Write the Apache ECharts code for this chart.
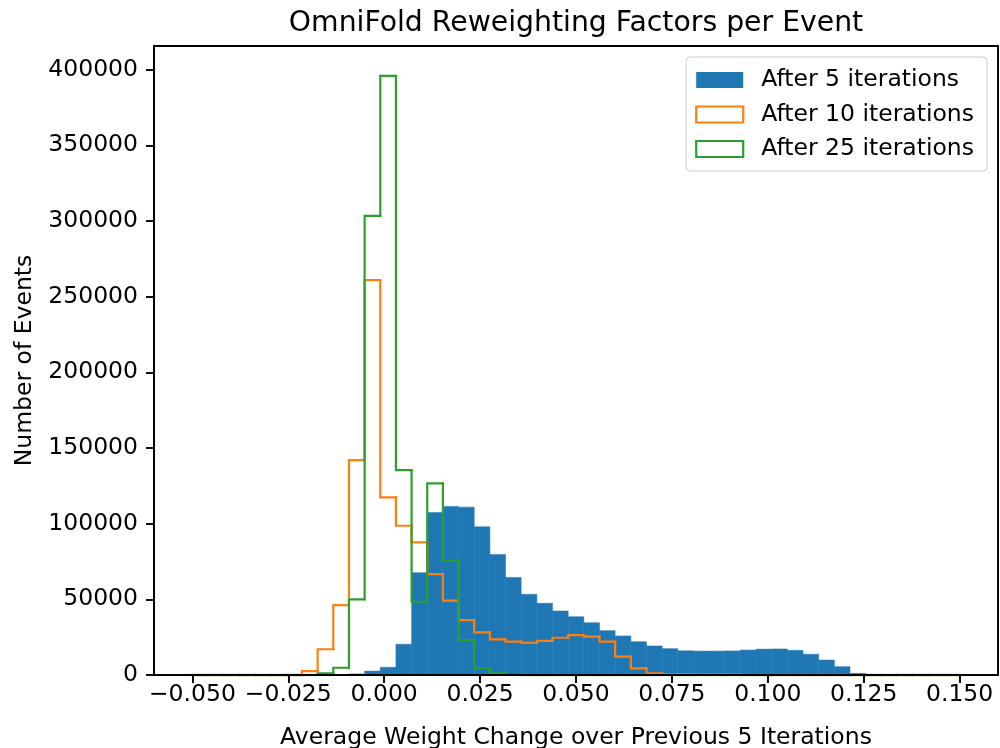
<!DOCTYPE html>
<html>
<head>
<meta charset="utf-8">
<title>OmniFold Reweighting Factors per Event</title>
<script src="https://cdn.jsdelivr.net/npm/echarts@6/dist/echarts.min.js"></script>
<style>
  html, body { margin: 0; padding: 0; background: #ffffff; }
  #chart { width: 1000px; height: 748px; }
</style>
</head>
<body>
<div id="chart"></div>
<script>
// Histogram binning: 49 equal bins between BIN_LO and BIN_HI
const BIN_LO = -0.05;
const BIN_HI = 0.15;
const BIN_COUNT = 49;

// Events per bin
const after5 = [
  0, 0, 0, 0, 0, 0, 0, 0, 0, 200,
  700, 2600, 5100, 20300, 67600, 107400, 111400, 110900, 97900, 79700,
  64500, 53300, 47400, 42300, 38500, 34500, 29300, 25800, 22000, 19200,
  17400, 16000, 15800, 15800, 15900, 16500, 17100, 17200, 16300, 13700,
  9900, 5500, 1100, 0, 0, 0, 0, 0, 0
];
const after10 = [
  0, 0, 0, 0, 0, 0, 0, 2600, 17000, 46200,
  142000, 260900, 117400, 98600, 87600, 66700, 49100, 36300, 28200, 23600,
  22000, 21300, 22500, 24600, 26400, 25300, 22000, 12100, 4400, 1100,
  500, 400, 300, 300, 200, 0, 0, 0, 0, 0,
  0, 0, 0, 0, 0, 0, 0, 0, 0
];
const after25 = [
  0, 0, 0, 0, 0, 0, 0, 0, 1100, 4800,
  50000, 303300, 395800, 135400, 48400, 126600, 75500, 23100, 4400, 1100,
  0, 0, 0, 0, 0, 0, 0, 0, 0, 0,
  0, 0, 0, 0, 0, 0, 0, 0, 0, 0,
  0, 0, 0, 0, 0, 0, 0, 0, 0
];

const seriesNames = ['After 5 iterations', 'After 10 iterations', 'After 25 iterations'];
const xTicks = [-0.05, -0.025, 0, 0.025, 0.05, 0.075, 0.1, 0.125, 0.15];
const yTicks = [0, 50000, 100000, 150000, 200000, 250000, 300000, 350000, 400000];

const COLORS = ['#1f77b4', '#ff7f0e', '#2ca02c'];
const FONT = 'DejaVu Sans';
const FS = 23.5;

const edges = [];
for (let i = 0; i <= BIN_COUNT; i++) {
  edges.push(BIN_LO + (BIN_HI - BIN_LO) * i / BIN_COUNT);
}

// [left edge, right edge, count]
function barData(counts) {
  return counts.map((c, i) => [edges[i], edges[i + 1], c]);
}
// [left edge, right edge, count, previous count, is last bin]
function stepData(counts) {
  return counts.map((c, i) => [edges[i], edges[i + 1], c, i ? counts[i - 1] : 0, i === counts.length - 1 ? 1 : 0]);
}

function renderBar(color) {
  return function (params, api) {
    const h = api.value(2);
    if (!h) return null;
    const p0 = api.coord([api.value(0), h]);
    const p1 = api.coord([api.value(1), 0]);
    return {
      type: 'rect',
      shape: { x: p0[0], y: p0[1], width: p1[0] - p0[0], height: p1[1] - p0[1] },
      style: { fill: color, stroke: color, lineWidth: 0.5 }
    };
  };
}

function renderStep(color) {
  return function (params, api) {
    const x0 = api.value(0), x1 = api.value(1);
    const h = api.value(2), hp = api.value(3), last = api.value(4);
    const pts = [api.coord([x0, hp]), api.coord([x0, h]), api.coord([x1, h])];
    if (last) pts.push(api.coord([x1, 0]));
    return {
      type: 'polyline',
      shape: { points: pts },
      style: { stroke: color, lineWidth: 2.2, fill: null, lineCap: 'square', lineJoin: 'miter' }
    };
  };
}

function fmtX(v) {
  return (Math.abs(v) < 1e-12 ? 0 : v).toFixed(3).replace('-', '\u2212');
}

const chart = echarts.init(document.getElementById('chart'), null, { renderer: 'canvas' });

chart.setOption({
  animation: false,
  backgroundColor: '#ffffff',
  textStyle: { fontFamily: FONT },
  title: {
    text: 'OmniFold Reweighting Factors per Event',
    left: 571,
    top: 5,
    textAlign: 'center',
    textStyle: { fontFamily: FONT, fontSize: 28.3, fontWeight: 'normal', color: '#000' }
  },
  legend: {
    orient: 'vertical',
    right: 13,
    top: 57,
    padding: [11, 13, 10, 9],
    itemGap: 10.5,
    itemWidth: 47,
    itemHeight: 16,
    backgroundColor: 'rgba(255,255,255,0.8)',
    borderColor: '#cccccc',
    borderWidth: 1,
    borderRadius: 4,
    selectedMode: false,
    textStyle: { fontFamily: FONT, fontSize: FS, color: '#000', padding: [0, 0, 0, 13] },
    data: [
      { name: seriesNames[0], icon: 'rect', itemStyle: { color: COLORS[0], borderWidth: 0 } },
      { name: seriesNames[1], icon: 'rect', itemStyle: { color: '#ffffff', borderColor: COLORS[1], borderWidth: 2.2 } },
      { name: seriesNames[2], icon: 'rect', itemStyle: { color: '#ffffff', borderColor: COLORS[2], borderWidth: 2.2 } }
    ]
  },
  grid: {
    left: 154,
    right: 2,
    top: 46,
    bottom: 73,
    containLabel: false,
    outerBoundsMode: 'none',
    show: true,
    borderColor: '#000',
    borderWidth: 1.9,
    z: 10
  },
  xAxis: {
    type: 'value',
    min: -0.06,
    max: 0.16,
    z: 10,
    splitLine: { show: false },
    axisLine: { show: true, onZero: false, lineStyle: { color: '#000', width: 1.9 } },
    axisTick: { show: true, customValues: xTicks, length: 8, lineStyle: { color: '#000', width: 1.9 } },
    axisLabel: {
      customValues: xTicks,
      formatter: fmtX,
      margin: 8,
      fontFamily: FONT,
      fontSize: FS,
      color: '#000'
    },
    name: 'Average Weight Change over Previous 5 Iterations',
    nameLocation: 'middle',
    nameGap: 51,
    nameTextStyle: { fontFamily: FONT, fontSize: FS, color: '#000' }
  },
  yAxis: {
    type: 'value',
    min: 0,
    max: 415600,
    z: 10,
    splitLine: { show: false },
    axisLine: { show: true, onZero: false, lineStyle: { color: '#000', width: 1.9 } },
    axisTick: { show: true, customValues: yTicks, length: 8, lineStyle: { color: '#000', width: 1.9 } },
    axisLabel: {
      customValues: yTicks,
      formatter: v => String(Math.round(v)),
      margin: 16,
      fontFamily: FONT,
      fontSize: FS,
      color: '#000'
    },
    name: 'Number of Events',
    nameLocation: 'middle',
    nameGap: 117,
    nameTextStyle: { fontFamily: FONT, fontSize: FS, color: '#000' }
  },
  series: [
    {
      name: seriesNames[0],
      type: 'custom',
      silent: true,
      z: 2,
      itemStyle: { color: COLORS[0] },
      encode: { x: [0, 1], y: 2 },
      renderItem: renderBar(COLORS[0]),
      data: barData(after5)
    },
    {
      name: seriesNames[1],
      type: 'custom',
      silent: true,
      z: 3,
      itemStyle: { color: COLORS[1] },
      encode: { x: [0, 1], y: [2, 3] },
      renderItem: renderStep(COLORS[1]),
      data: stepData(after10)
    },
    {
      name: seriesNames[2],
      type: 'custom',
      silent: true,
      z: 4,
      itemStyle: { color: COLORS[2] },
      encode: { x: [0, 1], y: [2, 3] },
      renderItem: renderStep(COLORS[2]),
      data: stepData(after25)
    }
  ]
});
</script>
</body>
</html>
